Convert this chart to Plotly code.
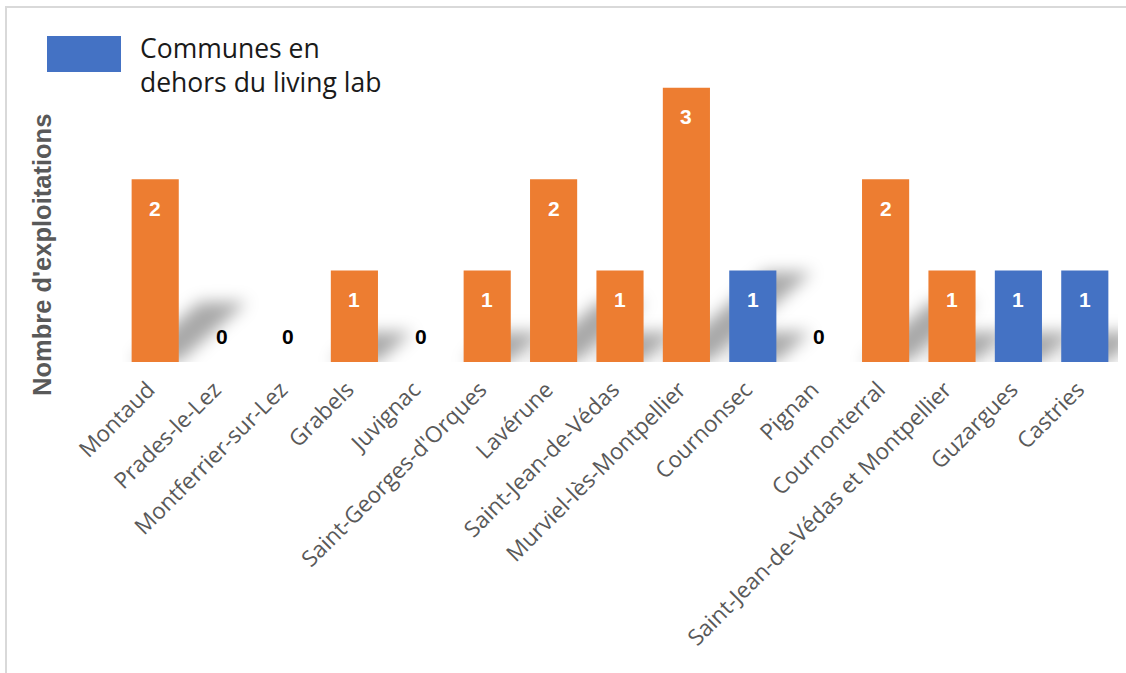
import plotly.graph_objects as go

# Number of farms per commune
communes = [
    "Montaud", "Prades-le-Lez", "Montferrier-sur-Lez", "Grabels", "Juvignac",
    "Saint-Georges-d'Orques", "Lavérune", "Saint-Jean-de-Védas",
    "Murviel-lès-Montpellier", "Cournonsec", "Pignan", "Cournonterral",
    "Saint-Jean-de-Védas et Montpellier", "Guzargues", "Castries",
]
exploitations = [2, 0, 0, 1, 0, 1, 2, 1, 3, 1, 0, 2, 1, 1, 1]
hors_living_lab = [False, False, False, False, False, False, False, False,
                   False, True, False, False, False, True, True]

legend_label = "Communes en<br>dehors du living lab"
y_title = "Nombre d'exploitations"

ORANGE = "#ED7D31"
BLUE = "#4472C4"
GREY_TEXT = "#595959"

W, H = 1126, 673
M_L, M_R, M_T, M_B = 122, 8, 42, 311
PLOT_W = W - M_L - M_R
PLOT_H = H - M_T - M_B
Y_MAX = 3.5
BAR_FRAC = 0.71


def paper_x(px):
    return (px - M_L) / PLOT_W


def paper_y(py):
    return (H - M_B - py) / PLOT_H


colors = [BLUE if out else ORANGE for out in hors_living_lab]

fig = go.Figure(
    go.Bar(
        x=communes,
        y=exploitations,
        marker=dict(color=colors, line=dict(width=0)),
        hoverinfo="x+y",
        showlegend=False,
    )
)

# soft perspective shadows cast to the lower right of each bar
px_per_unit = PLOT_H / Y_MAX
cat_px = PLOT_W / len(communes)
shapes = []
for i, v in enumerate(exploitations):
    if v <= 0:
        continue
    dx = 34 * v / cat_px          # horizontal reach, category units
    dy = 30 * v / px_per_unit     # vertical reach, data units
    x0, x1 = i - BAR_FRAC / 2, i + BAR_FRAC / 2
    path = (f"M {x0},0 L {x1},0 L {x1 + dx},{dy} L {x0 + dx},{dy} Z")
    shapes.append(dict(type="path", path=path, xref="x", yref="y",
                       fillcolor="rgba(0,0,0,0.34)", line=dict(width=0),
                       layer="below"))

# legend swatch
shapes.append(dict(type="rect", xref="paper", yref="paper",
                   x0=paper_x(47), x1=paper_x(121), y0=paper_y(72), y1=paper_y(36),
                   fillcolor=BLUE, line=dict(width=0), layer="above"))
# frame edges
shapes.append(dict(type="line", xref="paper", yref="paper",
                   x0=paper_x(5), x1=paper_x(1130), y0=paper_y(7), y1=paper_y(7),
                   line=dict(color="#D9D9D9", width=2), layer="above"))
shapes.append(dict(type="line", xref="paper", yref="paper",
                   x0=paper_x(6), x1=paper_x(6), y0=paper_y(6), y1=paper_y(680),
                   line=dict(color="#D9D9D9", width=2), layer="above"))

annotations = []
for name, v in zip(communes, exploitations):
    if v > 0:
        annotations.append(dict(x=name, y=v, xref="x", yref="y", text=str(v),
                                showarrow=False, yshift=-29,
                                font=dict(family="Liberation Sans", size=21,
                                          color="white", weight="bold")))
    else:
        annotations.append(dict(x=name, y=v, xref="x", yref="y", text=str(v),
                                showarrow=False, yshift=26,
                                font=dict(family="Liberation Sans", size=21,
                                          color="black", weight="bold")))

annotations.append(dict(text=legend_label, xref="paper", yref="paper",
                        x=paper_x(138), y=paper_y(65), xanchor="left", yanchor="middle",
                        showarrow=False, align="left",
                        font=dict(family="Open Sans", size=26.5, color="#1a1a1a")))
annotations.append(dict(text=y_title, xref="paper", yref="paper",
                        x=paper_x(42), y=paper_y(255), xanchor="center", yanchor="middle",
                        textangle=-90, showarrow=False,
                        font=dict(family="Liberation Sans", size=25.5, color=GREY_TEXT,
                                  weight="bold")))

fig.update_layout(
    width=W, height=H,
    margin=dict(l=M_L, r=M_R, t=M_T, b=M_B, autoexpand=False),
    paper_bgcolor="white", plot_bgcolor="white",
    bargap=1 - BAR_FRAC,
    shapes=shapes,
    annotations=annotations,
    showlegend=False,
    xaxis=dict(type="category", range=[-0.5, len(communes) - 0.5],
               tickangle=-45, showgrid=False, showline=False,
               zeroline=False, ticks="", automargin=False,
               ticklabelstandoff=9, ticklabelshift=-7,
               tickfont=dict(family="Open Sans", size=22.5, color=GREY_TEXT)),
    yaxis=dict(range=[0, Y_MAX], visible=False, showgrid=False, zeroline=False,
               automargin=False),
)

blur_js = """
var gd = document.getElementById('{plot_id}');
var ns = 'http://www.w3.org/2000/svg';
var svg = gd.querySelector('svg.main-svg');
var defs = svg.querySelector('defs');
if (!document.getElementById('bar-shadow-blur')) {
  var f = document.createElementNS(ns, 'filter');
  f.setAttribute('id', 'bar-shadow-blur');
  f.setAttribute('x', '-80%'); f.setAttribute('y', '-80%');
  f.setAttribute('width', '260%'); f.setAttribute('height', '260%');
  var b = document.createElementNS(ns, 'feGaussianBlur');
  b.setAttribute('stdDeviation', '8');
  f.appendChild(b); defs.appendChild(f);
}
gd.querySelectorAll('.shapelayer path').forEach(function (p) {
  if (!p.closest('.layer-above')) {
    p.setAttribute('filter', 'url(#bar-shadow-blur)');
  }
});
"""

fig.write_html("out.html", post_script=blur_js)
